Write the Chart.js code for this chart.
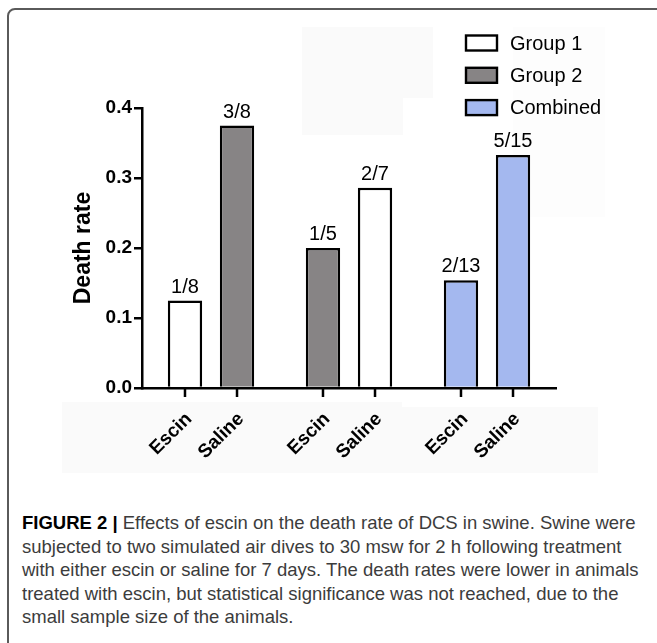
<!DOCTYPE html>
<html>
<head>
<meta charset="utf-8">
<script src="https://cdn.jsdelivr.net/npm/chart.js@4.4.1/dist/chart.umd.min.js"></script>
<style>
  body { margin: 0; background: #fff; }
  #marco { position: absolute; left: 7px; top: 8px; width: 680px; height: 700px;
           border: 2px solid #5a5a5a; border-radius: 8px; }
  .mancha { position: absolute; background: #fafafa; }
  #grafico { position: absolute; left: 0; top: 0; }
  #pie { position: absolute; left: 22px; top: 511px; font-family: "Liberation Sans", Arial, sans-serif;
         font-size: 18.5px; line-height: 23.6px; color: #3c3c3c; white-space: nowrap; }
  #pie b { color: #000; }
</style>
</head>
<body>
<div id="marco"></div>
<div class="mancha" style="left:302px;top:27px;width:131px;height:71px"></div>
<div class="mancha" style="left:302px;top:98px;width:101px;height:37px"></div>
<div class="mancha" style="left:513px;top:27px;width:92px;height:190px;background:#fdfdfd"></div>
<div class="mancha" style="left:62px;top:402px;width:340px;height:71px"></div>
<div class="mancha" style="left:400px;top:407px;width:198px;height:66px"></div>
<div id="grafico"><canvas id="tasa" width="657" height="480"></canvas></div>
<div id="pie"><b>FIGURE 2 |</b> Effects of escin on the death rate of DCS in swine. Swine were<br>subjected to two simulated air dives to 30 msw for 2 h following treatment<br>with either escin or saline for 7 days. The death rates were lower in animals<br>treated with escin, but statistical significance was not reached, due to the<br>small sample size of the animals.</div>

<script>
// datos
var grupos = ["Dive 1", "Dive 2", "Combined"];
var tratamientos = ["Escin", "Saline"];
var tasaEscin = [0.125, 0.2, 0.154];
var tasaSaline = [0.375, 0.286, 0.333];
var fraccionEscin = ["1/8", "1/5", "2/13"];
var fraccionSaline = ["3/8", "2/7", "5/15"];
var ticksY = [0, 0.1, 0.2, 0.3, 0.4];

var blanco = "#ffffff";
var gris = "#878485";
var azul = "#a4b8ef";
var coloresEscin = [blanco, gris, azul];
var coloresSaline = [gris, blanco, azul];

var leyendaTextos = ["Group 1", "Group 2", "Combined"];
var leyendaColores = [blanco, gris, azul];

var fuente = '"Liberation Sans", Arial, sans-serif';

const etiquetas = {
  id: "etiquetas",
  afterDatasetsDraw(chart) {
    const ctx = chart.ctx;
    const y0 = chart.scales.y.getPixelForValue(0);
    const fracciones = [fraccionEscin, fraccionSaline];
    ctx.save();
    chart.data.datasets.forEach((ds, d) => {
      chart.getDatasetMeta(d).data.forEach((bar, i) => {
        ctx.fillStyle = "#000";
        ctx.font = "20px " + fuente;
        ctx.textAlign = "center";
        ctx.textBaseline = "alphabetic";
        ctx.fillText(fracciones[d][i], bar.x, bar.y - 8);

        ctx.strokeStyle = "#000";
        ctx.lineWidth = 2.5;
        ctx.beginPath();
        ctx.moveTo(bar.x, y0);
        ctx.lineTo(bar.x, y0 + 9);
        ctx.stroke();

        ctx.save();
        ctx.translate(bar.x + 4, y0 + 28);
        ctx.rotate(-Math.PI / 4);
        ctx.font = "bold 19px " + fuente;
        ctx.textAlign = "right";
        ctx.textBaseline = "middle";
        ctx.fillText(tratamientos[d], 0, 0);
        ctx.restore();
      });
    });
    ctx.restore();
  },
  afterDraw(chart) {
    // leyenda
    const ctx = chart.ctx;
    ctx.save();
    leyendaTextos.forEach((t, i) => {
      const y = 43 + i * 32.3;
      ctx.fillStyle = leyendaColores[i];
      ctx.fillRect(466, y - 7.5, 31, 15);
      ctx.strokeStyle = "#000";
      ctx.lineWidth = 2.4;
      ctx.strokeRect(466, y - 7.5, 31, 15);
      ctx.fillStyle = "#000";
      ctx.font = "20px " + fuente;
      ctx.textAlign = "left";
      ctx.textBaseline = "middle";
      ctx.fillText(t, 510, y + 1);
    });
    ctx.restore();
  }
};

new Chart(document.getElementById("tasa"), {
  type: "bar",
  data: {
    labels: grupos,
    datasets: [
      {
        label: "Escin",
        data: tasaEscin,
        backgroundColor: coloresEscin,
        borderColor: "#000",
        borderWidth: 2.5,
      },
      {
        label: "Saline",
        data: tasaSaline,
        backgroundColor: coloresSaline,
        borderColor: "#000",
        borderWidth: 2.5,
      },
    ],
  },
  options: {
    responsive: false,
    animation: false,
    events: [],
    layout: { padding: { left: 66, top: 108, right: 101, bottom: 0 } },
    datasets: { bar: { categoryPercentage: 0.754, barPercentage: 0.66 } },
    plugins: { legend: { display: false }, tooltip: { enabled: false } },
    scales: {
      x: {
        grid: { display: false },
        border: { display: true, color: "#000", width: 2.5 },
        ticks: { display: false },
        afterFit: (s) => { s.height = 92; },
      },
      y: {
        min: 0,
        max: 0.4,
        afterBuildTicks: (s) => { s.ticks = ticksY.map((v) => ({ value: v })); },
        ticks: {
          color: "#000",
          padding: 2,
          font: { family: fuente, size: 19, weight: "bold" },
          callback: (v) => v.toFixed(1),
        },
        grid: { drawOnChartArea: false, tickLength: 8, color: "#000", lineWidth: 2.5 },
        border: { display: true, color: "#000", width: 2.5 },
        title: {
          display: true,
          text: "Death rate",
          color: "#000",
          font: { family: fuente, size: 23, weight: "bold" },
        },
        afterFit: (s) => { s.width = 76; },
      },
    },
  },
  plugins: [etiquetas],
});
</script>
</body>
</html>
